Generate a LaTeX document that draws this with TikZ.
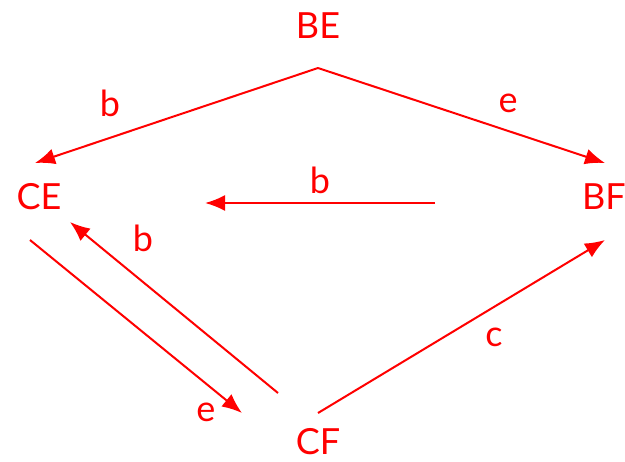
\documentclass[tikz,border=0pt]{standalone}
\usepackage{fontspec}
\setmainfont{Lato}
\usetikzlibrary{arrows.meta}

\begin{document}
\begin{tikzpicture}[
    x=0.5pt, y=-0.5pt,
    state/.style={text=red, inner sep=0pt, font=\fontsize{18}{21}\selectfont},
    lbl/.style={text=red, inner sep=0pt, font=\fontsize{18}{21}\selectfont},
    arr/.style={-{Latex[length=10pt,width=8pt]}, red, line width=1pt}
  ]
  \useasboundingbox (0,0) rectangle (625,461);
  % states
  \node[state] (BE) at (318,26)  {BE};
  \node[state] (CE) at (39,197)  {CE};
  \node[state] (BF) at (604,197) {BF};
  \node[state] (CF) at (318,442) {CF};
  \coordinate (mr) at (435,203);
  \coordinate (ml) at (205,203);

  % transitions
  \draw[arr] ([shift={(0,42)}]BE.center) -- ([shift={(-4,-34)}]CE.center);
  \draw[arr] ([shift={(0,42)}]BE.center) -- ([shift={(1,-34)}]BF.center);
  \draw[arr] (mr) -- (ml);
  \draw[arr] ([shift={(-9,43)}]CE.center) -- ([shift={(-76,-29)}]CF.center);
  \draw[arr] ([shift={(-40,-49)}]CF.center) -- ([shift={(31,25)}]CE.center);
  \draw[arr] ([shift={(0,-29)}]CF.center) -- ([shift={(1,43)}]BF.center);

  % labels
  \node[lbl] (lb1) at (110,103) {b};
  \node[lbl] (le1) at (508,103) {e};
  \node[lbl] (lb2) at (320,180) {b};
  \node[lbl] (lb3) at (143,238) {b};
  \node[lbl] (le2) at (206,412) {e};
  \node[lbl] (lc)  at (494,337) {c};
\end{tikzpicture}
\end{document}
